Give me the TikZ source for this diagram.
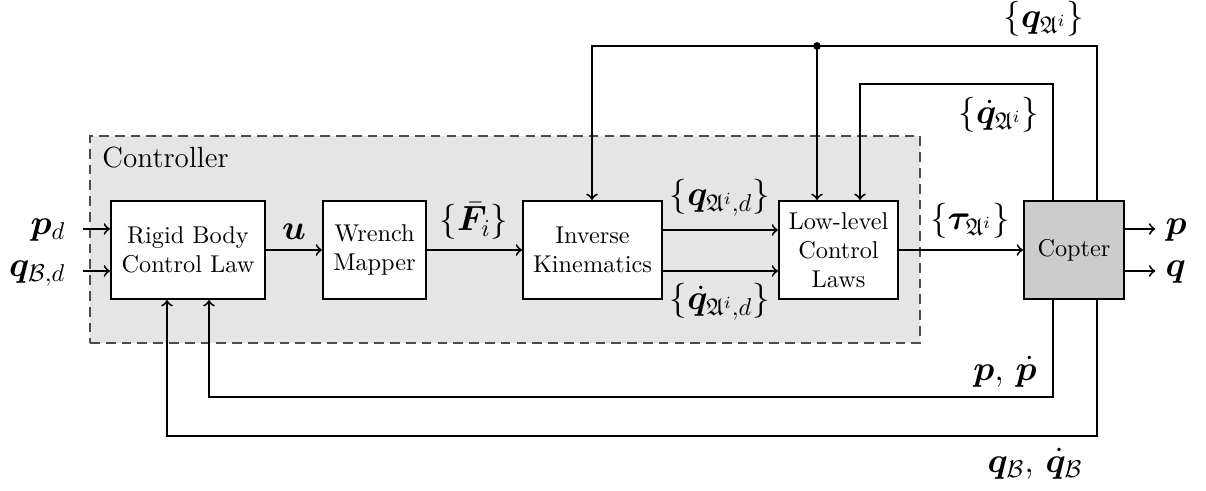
\documentclass[tikz,border=0pt]{standalone}
\usepackage{amsmath,amssymb,bm}
\usetikzlibrary{calc}

\begin{document}
\begin{tikzpicture}[
    x=0.4115pt, y=-0.4115pt,
    block/.style={draw, line width=0.8pt, fill=white, inner sep=0pt,
                  align=center, minimum height=40.4pt},
    conn/.style={line width=0.8pt, ->},
    lbl/.style={inner sep=0pt, font=\Large},
  ]
  \useasboundingbox (0,0) rectangle (1206,490);

  % controller region
  \node[draw=black!70, fill=black!10, dash pattern=on 4pt off 2.5pt,
        line width=0.6pt, inner sep=0pt, minimum width=341.5pt,
        minimum height=85.2pt] (ctrl) at (505,239.5) {};
  \node[anchor=base west, inner sep=0pt, font=\large] (ctrllbl) at (102,168) {Controller};

  % blocks
  \node[block, minimum width=63.4pt] (rb)   at (188,250)   {Rigid Body\\Control Law};
  \node[block, minimum width=42.4pt] (wm)   at (374.5,250) {Wrench\\Mapper};
  \node[block, minimum width=57.2pt] (ik)   at (592.5,250) {Inverse\\Kinematics};
  \node[block, minimum width=49.0pt] (llcl) at (838.5,250) {Low-level\\Control\\Laws};
  \node[block, minimum width=41.2pt, fill=black!20] (copter) at (1074,250) {Copter};

  % reference inputs
  \node[lbl, anchor=mid east] (pd) at (66,229) {$\bm{p}_d$};
  \node[lbl, anchor=mid east] (qd) at (66,271) {$\bm{q}_{\mathcal{B},d}$};
  \draw[conn, shorten <=9\pgflinewidth] (pd.mid east) -- (pd.mid east -| rb.west);
  \draw[conn, shorten <=9\pgflinewidth] (qd.mid east) -- (qd.mid east -| rb.west);

  % forward chain
  \draw[conn] (rb) -- (wm);
  \node[lbl] (ul) at (294,232) {$\bm{u}$};
  \draw[conn] (wm) -- (ik);
  \node[lbl] (fl) at (474,221) {$\{\bar{\bm{F}}_i\}$};
  \draw[conn] ($(ik.east)+(0,-20)$) -- ($(llcl.west)+(0,-20)$);
  \draw[conn] ($(ik.east)+(0,21)$) -- ($(llcl.west)+(0,21)$);
  \node[lbl] (qdl) at (720,198) {$\{\bm{q}_{\mathfrak{A}^i,d}\}$};
  \node[lbl] (qddl) at (720,302) {$\{\dot{\bm{q}}_{\mathfrak{A}^i,d}\}$};
  \draw[conn] (llcl) -- (copter);
  \node[lbl] (taul) at (970,221) {$\{\bm{\tau}_{\mathfrak{A}^i}\}$};

  % outputs
  \node[lbl, anchor=mid west] (po) at (1165,229) {$\bm{p}$};
  \node[lbl, anchor=mid west] (qo) at (1165,271) {$\bm{q}$};
  \draw[conn, shorten >=4pt] ($(copter.east)+(0,-21)$) -- (po.mid west);
  \draw[conn, shorten >=4pt] ($(copter.east)+(0,21)$) -- (qo.mid west);

  % joint feedback
  \coordinate (qtop) at (817,46);
  \coordinate (qdtop) at (860,84);
  \draw[conn] ($(copter.north)+(23,0)$) |- (qtop) -| ($(ik.north)+(-0.5,0)$);
  \fill (qtop) circle (1.6pt);
  \draw[conn] (qtop) -- (qtop |- llcl.north);
  \draw[conn] ($(copter.north)+(-21,0)$) |- (qdtop) -- (qdtop |- llcl.north);
  \node[lbl] (qal) at (1044,19) {$\{\bm{q}_{\mathfrak{A}^i}\}$};
  \node[lbl] (qdal) at (999,115) {$\{\dot{\bm{q}}_{\mathfrak{A}^i}\}$};

  % body feedback
  \coordinate (pb) at (209,397);
  \coordinate (qb) at (167,436);
  \draw[conn] ($(copter.south)+(-21,0)$) |- (pb) -- (pb |- rb.south);
  \draw[conn] ($(copter.south)+(23,0)$) |- (qb) -- (qb |- rb.south);
  \node[lbl] (ppl) at (1005,372) {$\bm{p},\,\dot{\bm{p}}$};
  \node[lbl] (qbl) at (1035,464) {$\bm{q}_{\mathcal{B}},\,\dot{\bm{q}}_{\mathcal{B}}$};
\end{tikzpicture}
\end{document}
